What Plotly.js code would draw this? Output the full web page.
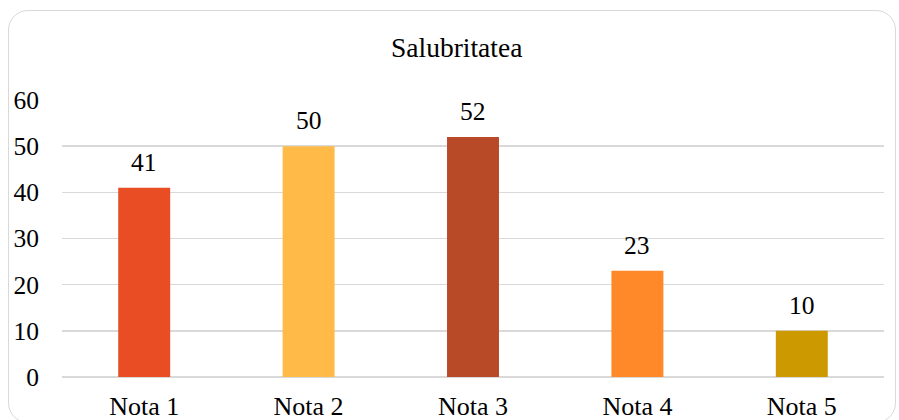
<!DOCTYPE html>
<html>
<head>
<meta charset="utf-8">
<script src="https://cdn.plot.ly/plotly-3.0.1.min.js"></script>
<style>
html,body{margin:0;padding:0;background:#fff;}
#wrap{position:relative;width:899px;height:420px;overflow:hidden;}
#frame{position:absolute;left:8px;top:10px;width:888px;height:413px;border:1.5px solid #d9d9d9;border-radius:20px;box-sizing:border-box;}
#chart{position:absolute;left:0;top:0;width:899px;height:420px;}
</style>
</head>
<body>
<div id="wrap"><div id="frame"></div><div id="chart"></div></div>
<script>
var categories = ["Nota 1", "Nota 2", "Nota 3", "Nota 4", "Nota 5"];
var values = [41, 50, 52, 23, 10];
var barColors = ["#E84D23", "#FFBA47", "#B94A27", "#FF8829", "#CC9900"];
var yTicks = [0, 10, 20, 30, 40, 50, 60];
var chartTitle = "Salubritatea";

function mkFont(sz){ return {family: "Liberation Serif", size: sz, color: "#000000"}; }

var trace = {
  type: "bar",
  x: categories,
  y: values,
  marker: {color: barColors},
  hoverinfo: "none"
};

var annotations = categories.map(function(c, i){
  return {x: c, y: values[i], xref: "x", yref: "y", text: String(values[i]),
    showarrow: false, yanchor: "bottom", yshift: 9, font: mkFont(25.5)};
});

var layout = {
  width: 899, height: 420,
  margin: {l: 62, r: 15, t: 100, b: 43},
  paper_bgcolor: "rgba(0,0,0,0)",
  plot_bgcolor: "rgba(0,0,0,0)",
  showlegend: false,
  bargap: 0.684,
  font: mkFont(26),
  title: {text: chartTitle, font: mkFont(27.5), xref: "container", x: 0.508, xanchor: "center",
    yref: "container", y: 1 - 47/420, yanchor: "middle"},
  xaxis: {type: "category", showgrid: false, showline: false, zeroline: false,
    ticks: "", tickfont: mkFont(26), ticklabelstandoff: 11},
  yaxis: {range: [0, 60], tickvals: yTicks, ticktext: yTicks.map(String), showgrid: true,
    gridcolor: "#d9d9d9", gridwidth: 1.5, zeroline: true, zerolinecolor: "#d9d9d9",
    zerolinewidth: 1.5, showline: false, ticks: "", tickfont: mkFont(25.5), ticklabelstandoff: 22,
    fixedrange: true},
  annotations: annotations
};

Plotly.newPlot("chart", [trace], layout, {displayModeBar: false, staticPlot: true});
</script>
</body>
</html>
